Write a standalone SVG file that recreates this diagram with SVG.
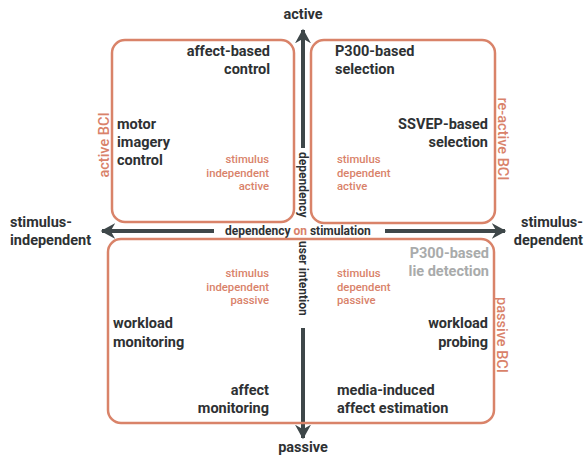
<svg xmlns="http://www.w3.org/2000/svg" width="585" height="457" viewBox="0 0 585 457">
<defs>
<marker id="ah" viewBox="0 0 12 12" refX="10" refY="6" markerWidth="4" markerHeight="4" markerUnits="strokeWidth" orient="auto">
<path d="M0,0 L11,6 L0,12 L3.5,6 Z" fill="#3e4749"/>
</marker>
<style>
.box{fill:none;stroke:#d98369;stroke-width:2.5}
.t{font-family:Roboto,"Open Sans",sans-serif;font-weight:700;font-size:14.5px;fill:#2e3133}
.s{font-family:Roboto,"Open Sans",sans-serif;font-weight:500;font-size:11.3px;fill:#d9826a}
.g{font-family:Roboto,"Open Sans",sans-serif;font-weight:700;font-size:14.5px;fill:#a9abab}
.lab{font-family:Roboto,"Open Sans",sans-serif;font-weight:500;font-size:14.5px;fill:#d9826a}
.ax{font-family:Roboto,"Open Sans",sans-serif;font-weight:700;font-size:12px;fill:#2e3133}
.r{text-anchor:end}
.m{text-anchor:middle}
.arr{stroke:#3e4749;stroke-width:4;fill:none}
</style>
</defs>
<rect width="585" height="457" fill="#fff"/>
<g id="connectors">
<line class="arr" x1="303" y1="148" x2="303" y2="30" marker-end="url(#ah)"/>
<line class="arr" x1="303" y1="328" x2="303" y2="438" marker-end="url(#ah)"/>
<line class="arr" x1="214" y1="231" x2="102" y2="231" marker-end="url(#ah)"/>
<line class="arr" x1="385" y1="231" x2="505" y2="231" marker-end="url(#ah)"/>
</g>
<g id="axis-labels">
<text class="t m" x="303" y="19">active</text>
<text class="t m" x="303" y="452">passive</text>
<text class="t" x="10" y="227">stimulus-</text>
<text class="t" x="10" y="245">independent</text>
<text class="t r" x="583" y="227">stimulus-</text>
<text class="t r" x="583" y="245">dependent</text>
<text class="ax" x="225" y="235">dependency <tspan fill="#d9826a">on</tspan> stimulation</text>
<text class="ax" transform="translate(299,152) rotate(90)">dependency</text>
<text class="ax" transform="translate(299,241) rotate(90)">user intention</text>
</g>
<g id="active-bci">
<rect class="box" x="112" y="40" width="182" height="182" rx="13"/>
<text class="t r" x="270" y="56">affect-based</text>
<text class="t r" x="270" y="74">control</text>
<text class="t" x="117" y="129">motor</text>
<text class="t" x="117" y="147">imagery</text>
<text class="t" x="117" y="165">control</text>
<text class="s r" x="269" y="163">stimulus</text>
<text class="s r" x="269" y="177">independent</text>
<text class="s r" x="269" y="190">active</text>
<text class="lab m" transform="translate(109,145) rotate(-90)">active BCI</text>
</g>
<g id="reactive-bci">
<rect class="box" x="311" y="40" width="184" height="183" rx="13"/>
<text class="t" x="335" y="56">P300-based</text>
<text class="t" x="335" y="74">selection</text>
<text class="t r" x="488" y="129">SSVEP-based</text>
<text class="t r" x="488" y="147">selection</text>
<text class="s" x="337" y="163">stimulus</text>
<text class="s" x="337" y="177">dependent</text>
<text class="s" x="337" y="190">active</text>
<text class="lab m" transform="translate(498,139) rotate(90)">re-active BCI</text>
</g>
<g id="passive-bci">
<rect class="box" x="108" y="239" width="386" height="184" rx="13"/>
<text class="s r" x="269" y="277">stimulus</text>
<text class="s r" x="269" y="291">independent</text>
<text class="s r" x="269" y="304">passive</text>
<text class="s" x="337" y="277">stimulus</text>
<text class="s" x="337" y="291">dependent</text>
<text class="s" x="337" y="304">passive</text>
<text class="g r" x="489" y="258">P300-based</text>
<text class="g r" x="489" y="276">lie detection</text>
<text class="t" x="113" y="328">workload</text>
<text class="t" x="113" y="347">monitoring</text>
<text class="t r" x="488" y="328">workload</text>
<text class="t r" x="488" y="347">probing</text>
<text class="t r" x="269" y="395">affect</text>
<text class="t r" x="269" y="413">monitoring</text>
<text class="t" x="337" y="395">media-induced</text>
<text class="t" x="337" y="413">affect estimation</text>
<text class="lab m" transform="translate(497,335) rotate(90)">passive BCI</text>
</g>
</svg>
